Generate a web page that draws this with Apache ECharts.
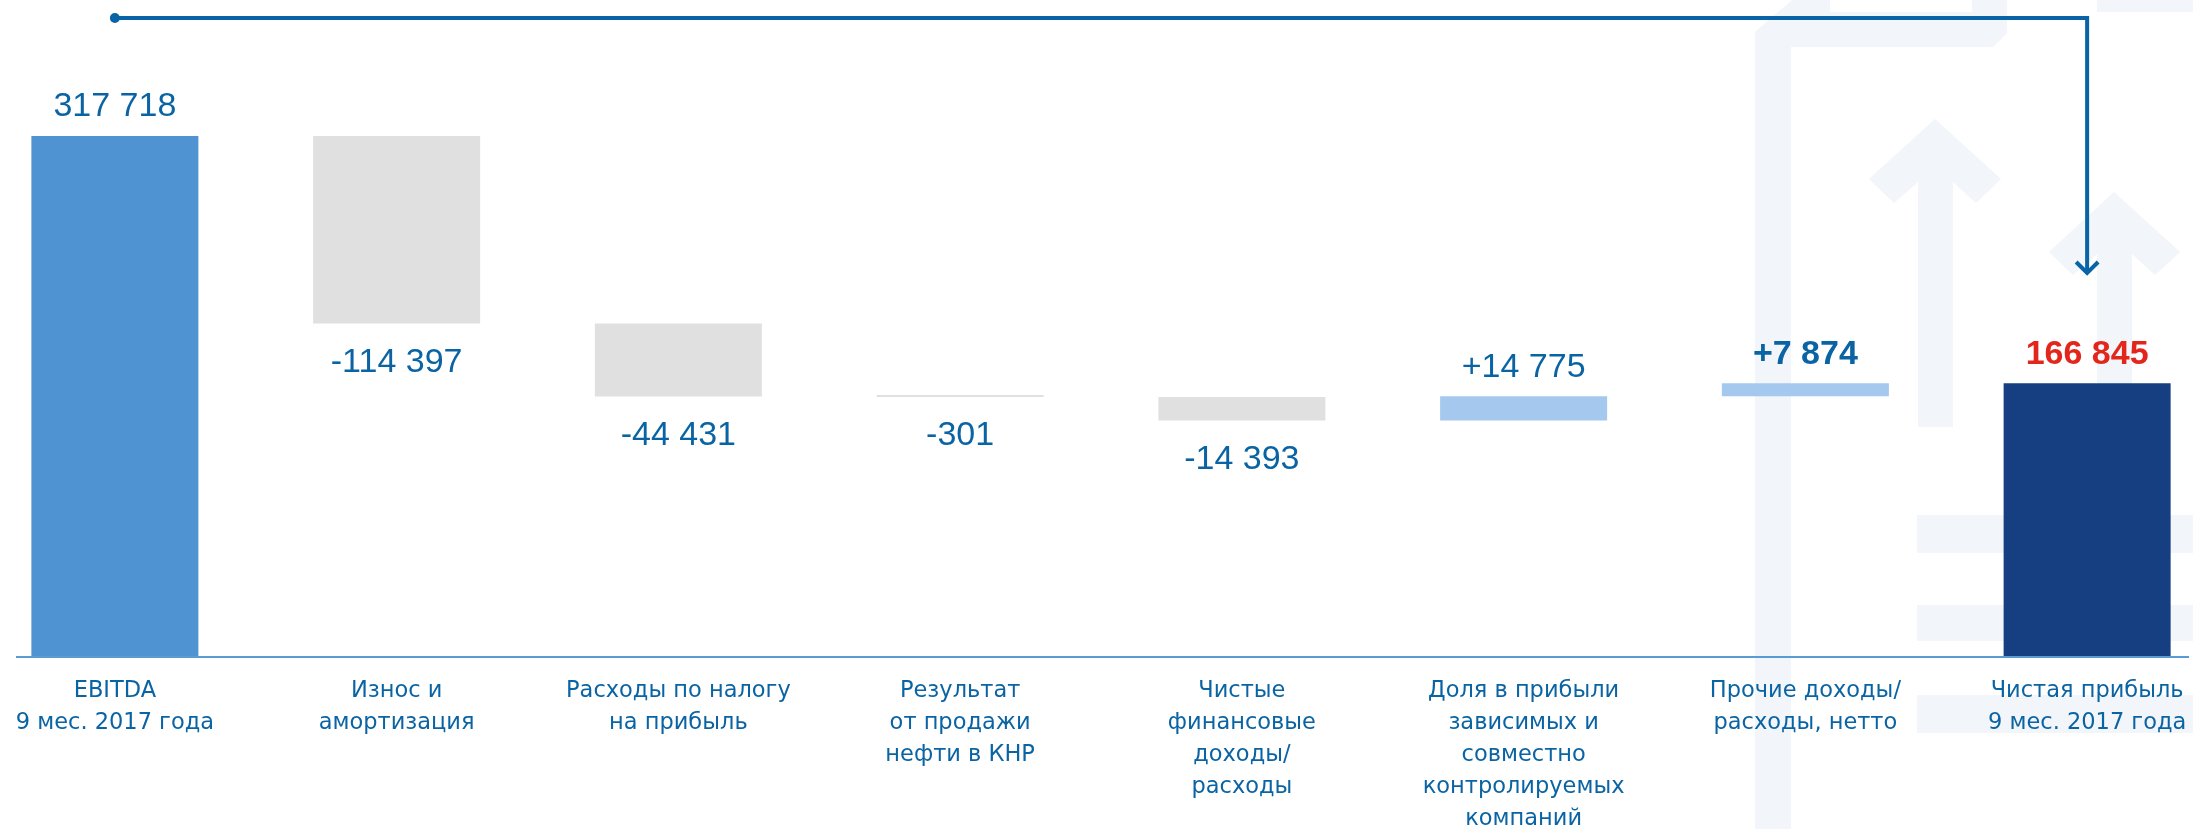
<!DOCTYPE html>
<html>
<head>
<meta charset="utf-8">
<title>EBITDA → Чистая прибыль</title>
<script src="https://cdn.jsdelivr.net/npm/echarts@6/dist/echarts.min.js"></script>
<style>
  html, body { margin: 0; padding: 0; background: #ffffff; }
  #main { width: 2193px; height: 829px; }
</style>
</head>
<body>
<div id="main"></div>
<script>
  // categories (line breaks as on the slide)
  var categories = [
    'EBITDA\n9 мес. 2017 года',
    'Износ и\nамортизация',
    'Расходы по налогу\nна прибыль',
    'Результат\nот продажи\nнефти в КНР',
    'Чистые\nфинансовые\nдоходы/\nрасходы',
    'Доля в прибыли\nзависимых и\nсовместно\nконтролируемых\nкомпаний',
    'Прочие доходы/\nрасходы, нетто',
    'Чистая прибыль\n9 мес. 2017 года'
  ];
  // first and last are totals, the rest are changes
  var values = [317718, -114397, -44431, -301, -14393, 14775, 7874, 166845];
  var kinds = ['start', 'neg', 'neg', 'neg', 'neg', 'pos', 'pos', 'end'];

  var colors = { start: '#4f93d3', neg: '#e0e0e0', pos: '#a5c8ee', end: '#163f82' };
  var textBlue = '#0a64a4';

  function fmt(n, signed) {
    var s = String(Math.abs(n)).replace(/\B(?=(\d{3})+(?!\d))/g, ' ');
    if (n < 0) return '-' + s;
    return signed ? '+' + s : s;
  }

  // floating bars: invisible base + visible part
  var base = [], shown = [], running = 0;
  for (var i = 0; i < values.length; i++) {
    var k = kinds[i], v = values[i];
    if (k == 'start' || k == 'end') {
      base.push(0);
      running = v;
      shown.push(v);
    } else {
      var next = running + v;
      base.push(Math.min(running, next));
      shown.push(Math.abs(v));
      running = next;
    }
  }

  var barData = shown.map(function (h, i) {
    var k = kinds[i];
    var below = k == 'neg';
    return {
      value: h,
      itemStyle: { color: colors[k] },
      label: {
        show: true,
        position: below ? 'bottom' : 'top',
        distance: below ? 22 : 12,
        formatter: fmt(values[i], k == 'pos' || k == 'neg'),
        color: k == 'end' ? '#e3261c' : textBlue,
        fontWeight: (i >= 6) ? 'bold' : 'normal'
      }
    };
  });

  var chart = echarts.init(document.getElementById('main'));

  chart.setOption({
    animation: false,
    backgroundColor: '#ffffff',
    grid: { left: -26, right: -35, top: 83, bottom: 172, outerBoundsMode: 'none', containLabel: false },
    xAxis: {
      type: 'category',
      data: categories,
      axisLine: { show: false },
      axisTick: { show: false },
      axisLabel: {
        interval: 0,
        margin: 18,
        color: textBlue,
        fontFamily: 'DejaVu Sans',
        fontSize: 22.5,
        lineHeight: 32,
        align: 'center'
      }
    },
    yAxis: { type: 'value', min: 0, max: 350000, show: false },
    series: [
      {
        type: 'bar',
        stack: 'w',
        silent: true,
        barWidth: 167,
        itemStyle: { color: 'rgba(0,0,0,0)' },
        data: base
      },
      {
        type: 'bar',
        stack: 'w',
        barWidth: 167,
        barMinHeight: 2,
        label: {
          fontFamily: 'Liberation Sans',
          fontSize: 34
        },
        data: barData
      }
    ]
  });

  // decorations: faint background pictogram, baseline, connector arrow
  var bg = '#f2f5f9';
  var y0 = chart.convertToPixel({ yAxisIndex: 0 }, 0);
  var xFirst = chart.convertToPixel({ xAxisIndex: 0 }, 0);
  var xLast = chart.convertToPixel({ xAxisIndex: 0 }, categories.length - 1);
  var lineCol = '#0864a6';

  chart.setOption({
    graphic: [
      { type: 'polygon', z: -5, silent: true, style: { fill: bg },
        shape: { points: [[1755, 829], [1755, 32], [1792, 0], [1830, 0], [1830, 12], [1972, 12], [1972, 0],
                          [2007, 0], [2007, 33], [1993, 47], [1791, 47], [1791, 829]] } },
      { type: 'rect', z: -5, silent: true, style: { fill: bg }, shape: { x: 2097, y: 0, width: 96, height: 12 } },
      { type: 'polygon', z: -5, silent: true, style: { fill: bg },
        shape: { points: [[1935, 119], [2001, 179], [1976, 203], [1953, 182], [1953, 427], [1918, 427],
                          [1918, 182], [1894, 203], [1869, 179]] } },
      { type: 'polygon', z: -5, silent: true, style: { fill: bg },
        shape: { points: [[2114, 192], [2180, 252], [2155, 275], [2132, 254], [2132, 600], [2097, 600],
                          [2097, 254], [2073, 275], [2049, 252]] } },
      { type: 'rect', z: -5, silent: true, style: { fill: bg }, shape: { x: 1917, y: 515, width: 276, height: 38 } },
      { type: 'rect', z: -5, silent: true, style: { fill: bg }, shape: { x: 1917, y: 605, width: 276, height: 36 } },
      { type: 'rect', z: -5, silent: true, style: { fill: bg }, shape: { x: 1917, y: 695, width: 276, height: 38 } },

      // baseline
      { type: 'line', z: 5, silent: true,
        shape: { x1: 16, y1: y0, x2: 2189, y2: y0 },
        style: { stroke: '#5b9bd5', lineWidth: 2 } },

      // connector from EBITDA to net profit
      { type: 'polyline', z: 20, silent: true,
        shape: { points: [[xFirst, 18], [xLast, 18], [xLast, 273]] },
        style: { stroke: lineCol, lineWidth: 4, fill: null } },
      { type: 'polyline', z: 20, silent: true,
        shape: { points: [[xLast - 11, 262], [xLast, 273], [xLast + 11, 262]] },
        style: { stroke: lineCol, lineWidth: 4, fill: null } },
      { type: 'circle', z: 20, silent: true,
        shape: { cx: xFirst, cy: 18, r: 5 },
        style: { fill: lineCol } }
    ]
  });
</script>
</body>
</html>
